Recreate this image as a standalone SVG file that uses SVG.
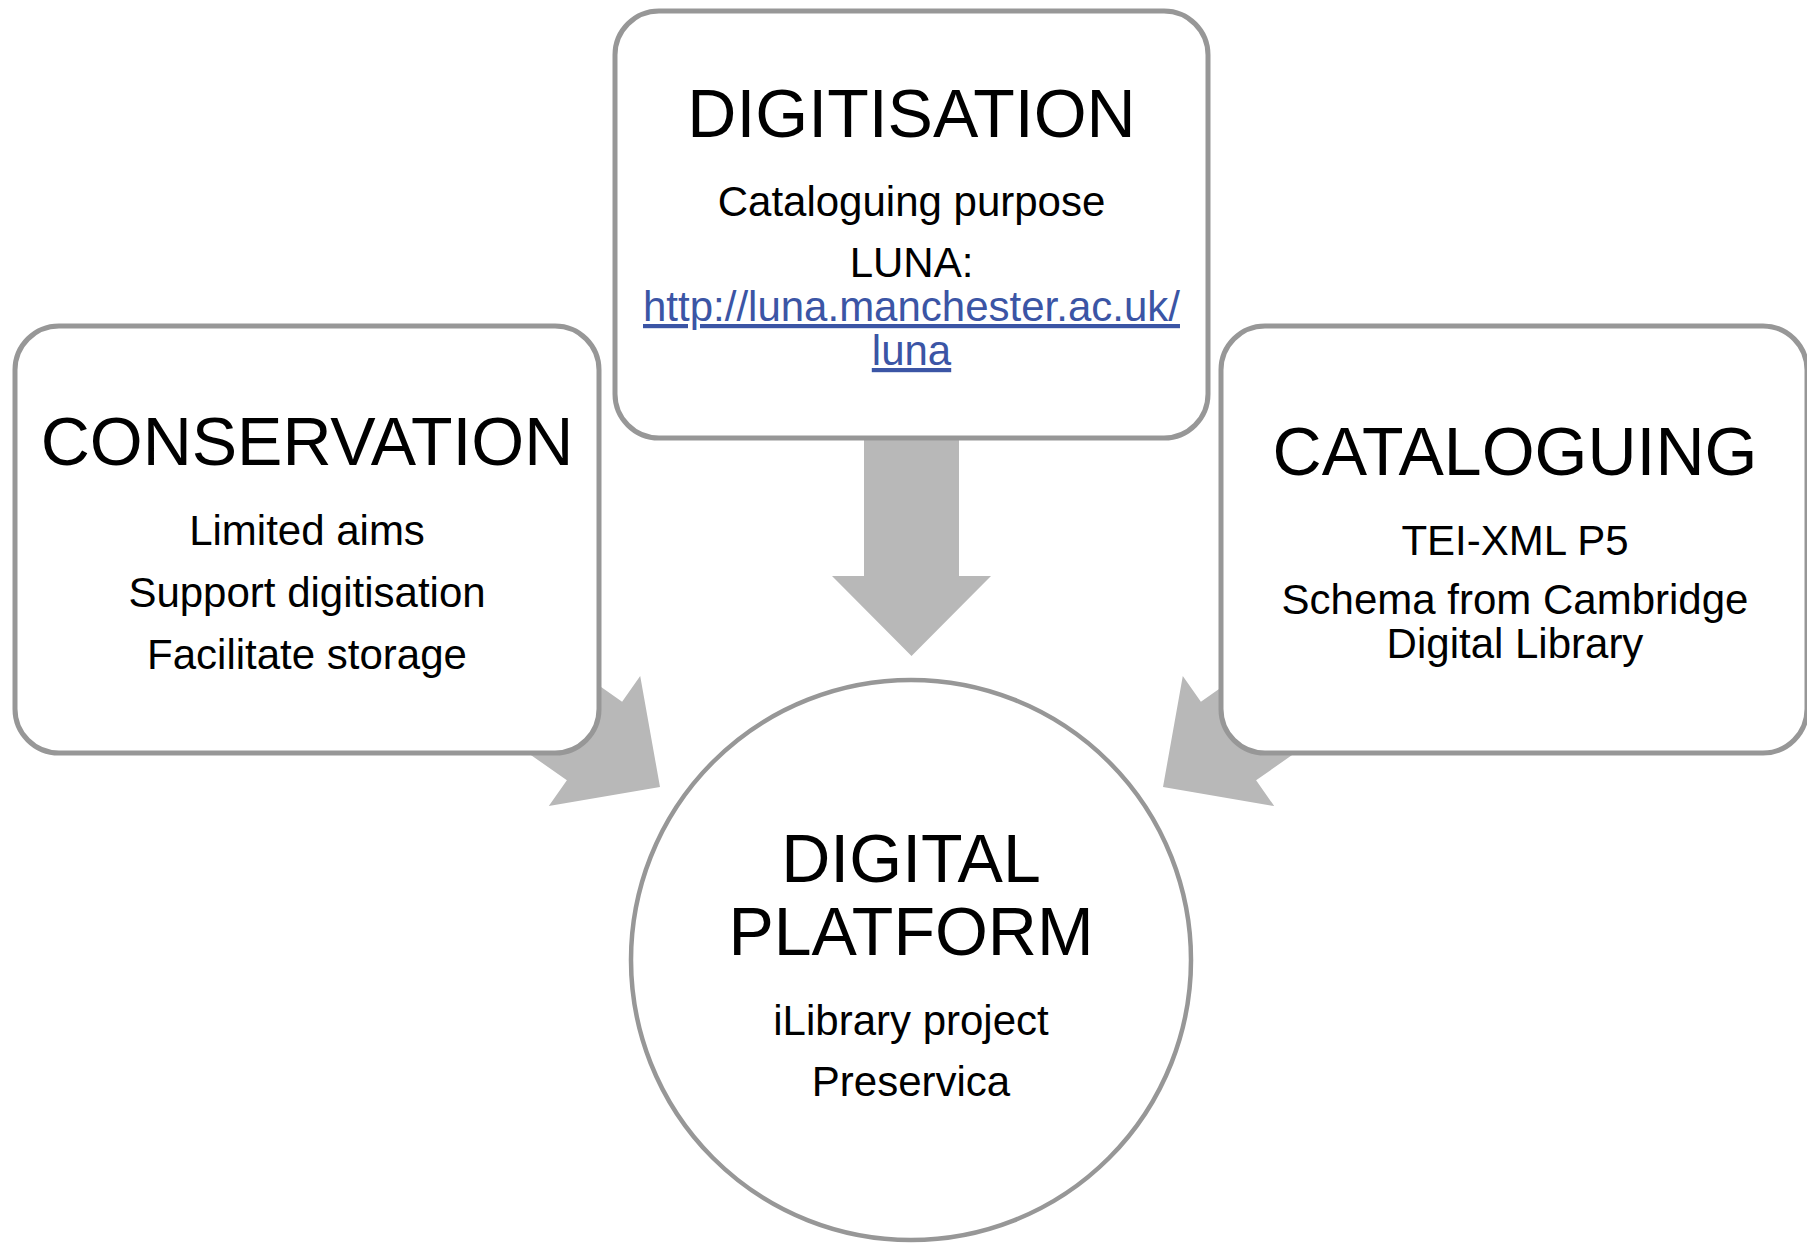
<svg xmlns="http://www.w3.org/2000/svg" width="1807" height="1243" viewBox="0 0 1807 1243">
<style>
.node{fill:#ffffff;stroke:#979797;stroke-width:5}
.arrow{fill:#b8b8b8;stroke:none}
text{font-family:"Liberation Sans",Arial,Helvetica,sans-serif;fill:#000000;text-anchor:middle}
.title{font-size:68px}
.body{font-size:42px}
.link{fill:#3b55a5;text-decoration:underline}
</style>
<rect x="0" y="0" width="1807" height="1243" fill="#ffffff"/>
<g id="connectors">
<polygon class="arrow" points="864,420 959,420 959,576 991,576 911.5,656 832,576 864,576"/>
<polygon class="arrow" points="441.9,575.2 622.1,701.7 640.2,675.9 660,787 548.8,806.1 566.9,780.3 386.7,653.8"/>
<polygon class="arrow" points="1381.1,575.2 1200.9,701.7 1182.8,675.9 1163,787 1274.2,806.1 1256.1,780.3 1436.3,653.8"/>
</g>
<g id="digitisation">
<rect class="node" x="615" y="11" width="593" height="427" rx="44" ry="44"/>
<text class="title" x="911.5" y="137">DIGITISATION</text>
<text class="body" x="911.5" y="216">Cataloguing purpose</text>
<text class="body" x="911.5" y="277">LUNA:</text>
<text class="body link" x="911.5" y="321">http://luna.manchester.ac.uk/</text>
<text class="body link" x="911.5" y="365">luna</text>
</g>
<g id="conservation">
<rect class="node" x="15" y="326" width="584" height="427" rx="44" ry="44"/>
<text class="title" x="307" y="465">CONSERVATION</text>
<text class="body" x="307" y="545">Limited aims</text>
<text class="body" x="307" y="607">Support digitisation</text>
<text class="body" x="307" y="669">Facilitate storage</text>
</g>
<g id="cataloguing">
<rect class="node" x="1221" y="326" width="586" height="427" rx="44" ry="44"/>
<text class="title" x="1515" y="475">CATALOGUING</text>
<text class="body" x="1515" y="555">TEI-XML P5</text>
<text class="body" x="1515" y="614">Schema from Cambridge</text>
<text class="body" x="1515" y="658">Digital Library</text>
</g>
<g id="digital-platform">
<circle class="node" cx="911" cy="960" r="280" style="stroke-width:4.5"/>
<text class="title" x="911" y="882">DIGITAL</text>
<text class="title" x="911" y="955">PLATFORM</text>
<text class="body" x="911" y="1035">iLibrary project</text>
<text class="body" x="911" y="1096">Preservica</text>
</g>
</svg>
